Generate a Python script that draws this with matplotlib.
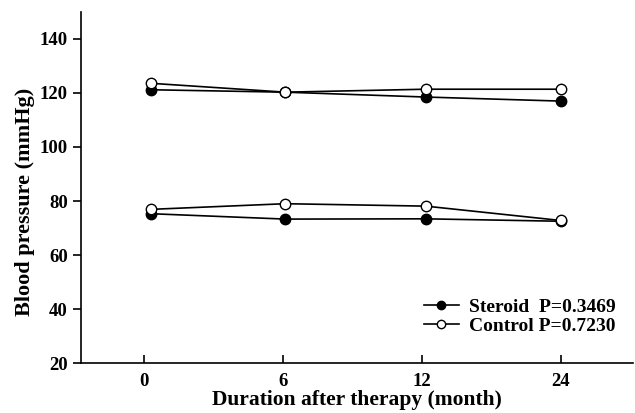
import matplotlib
matplotlib.use("Agg")
import matplotlib.pyplot as plt

months = ["0", "6", "12", "24"]
x_pos = [0.05, 0.02, 0.03, 0.0]

steroid_sbp = [121.2, 120.3, 118.5, 117.0]
control_sbp = [123.6, 120.3, 121.4, 121.4]
steroid_dbp = [75.3, 73.3, 73.4, 72.5]
control_dbp = [76.9, 79.0, 78.1, 72.8]

steroid_label = "Steroid  P=0.3469"
control_label = "Control P=0.7230"

plt.rcParams['font.family'] = ['Liberation Serif', 'DejaVu Serif']
plt.rcParams['font.weight'] = 'bold'

fig = plt.figure(figsize=(6.35, 4.13), dpi=100)
ax = fig.add_axes([0.1276, 0.121, 0.869, 0.85])

xs = [i + o for i, o in enumerate(x_pos)]
lw = 1.2
ms = 7.5
ax.plot(xs, steroid_sbp, color='black', lw=lw, marker='o', ms=ms, mfc='black', mec='black', zorder=3,
        label=steroid_label)
ax.plot(xs, control_sbp, color='black', lw=lw, marker='o', ms=ms, mfc='white', mec='black', mew=1.0, zorder=4,
        label=control_label)
ax.plot(xs, steroid_dbp, color='black', lw=lw, marker='o', ms=ms, mfc='black', mec='black', zorder=3)
ax.plot(xs, control_dbp, color='black', lw=lw, marker='o', ms=ms, mfc='white', mec='black', mew=1.0, zorder=4)

ax.set_xlim(-0.45, 3.52)
ax.set_ylim(20, 150)
ax.set_xticks(range(len(months)))
ax.set_xticklabels(months)
ax.set_yticks([20, 40, 60, 80, 100, 120, 140])

for s in ['top', 'right']:
    ax.spines[s].set_visible(False)
for s in ['left', 'bottom']:
    ax.spines[s].set_linewidth(1.2)

ax.tick_params(axis='x', direction='in', length=6, width=1.2, labelsize=13.5, pad=7)
ax.tick_params(axis='y', direction='out', length=6, width=1.2, labelsize=13.5)

ax.set_xlabel("Duration after therapy (month)", fontsize=15.5, fontweight='bold', labelpad=0)
ax.set_ylabel("Blood pressure (mmHg)", fontsize=16, fontweight='bold')
ax.yaxis.set_label_coords(-0.083, 0.459)

leg = ax.legend(loc='lower right', bbox_to_anchor=(1.0, 0.031), frameon=False, fontsize=14,
                handlelength=1.8, handletextpad=0.5, labelspacing=0.05, markerscale=0.8)

fig.savefig("out.png", dpi=100)
